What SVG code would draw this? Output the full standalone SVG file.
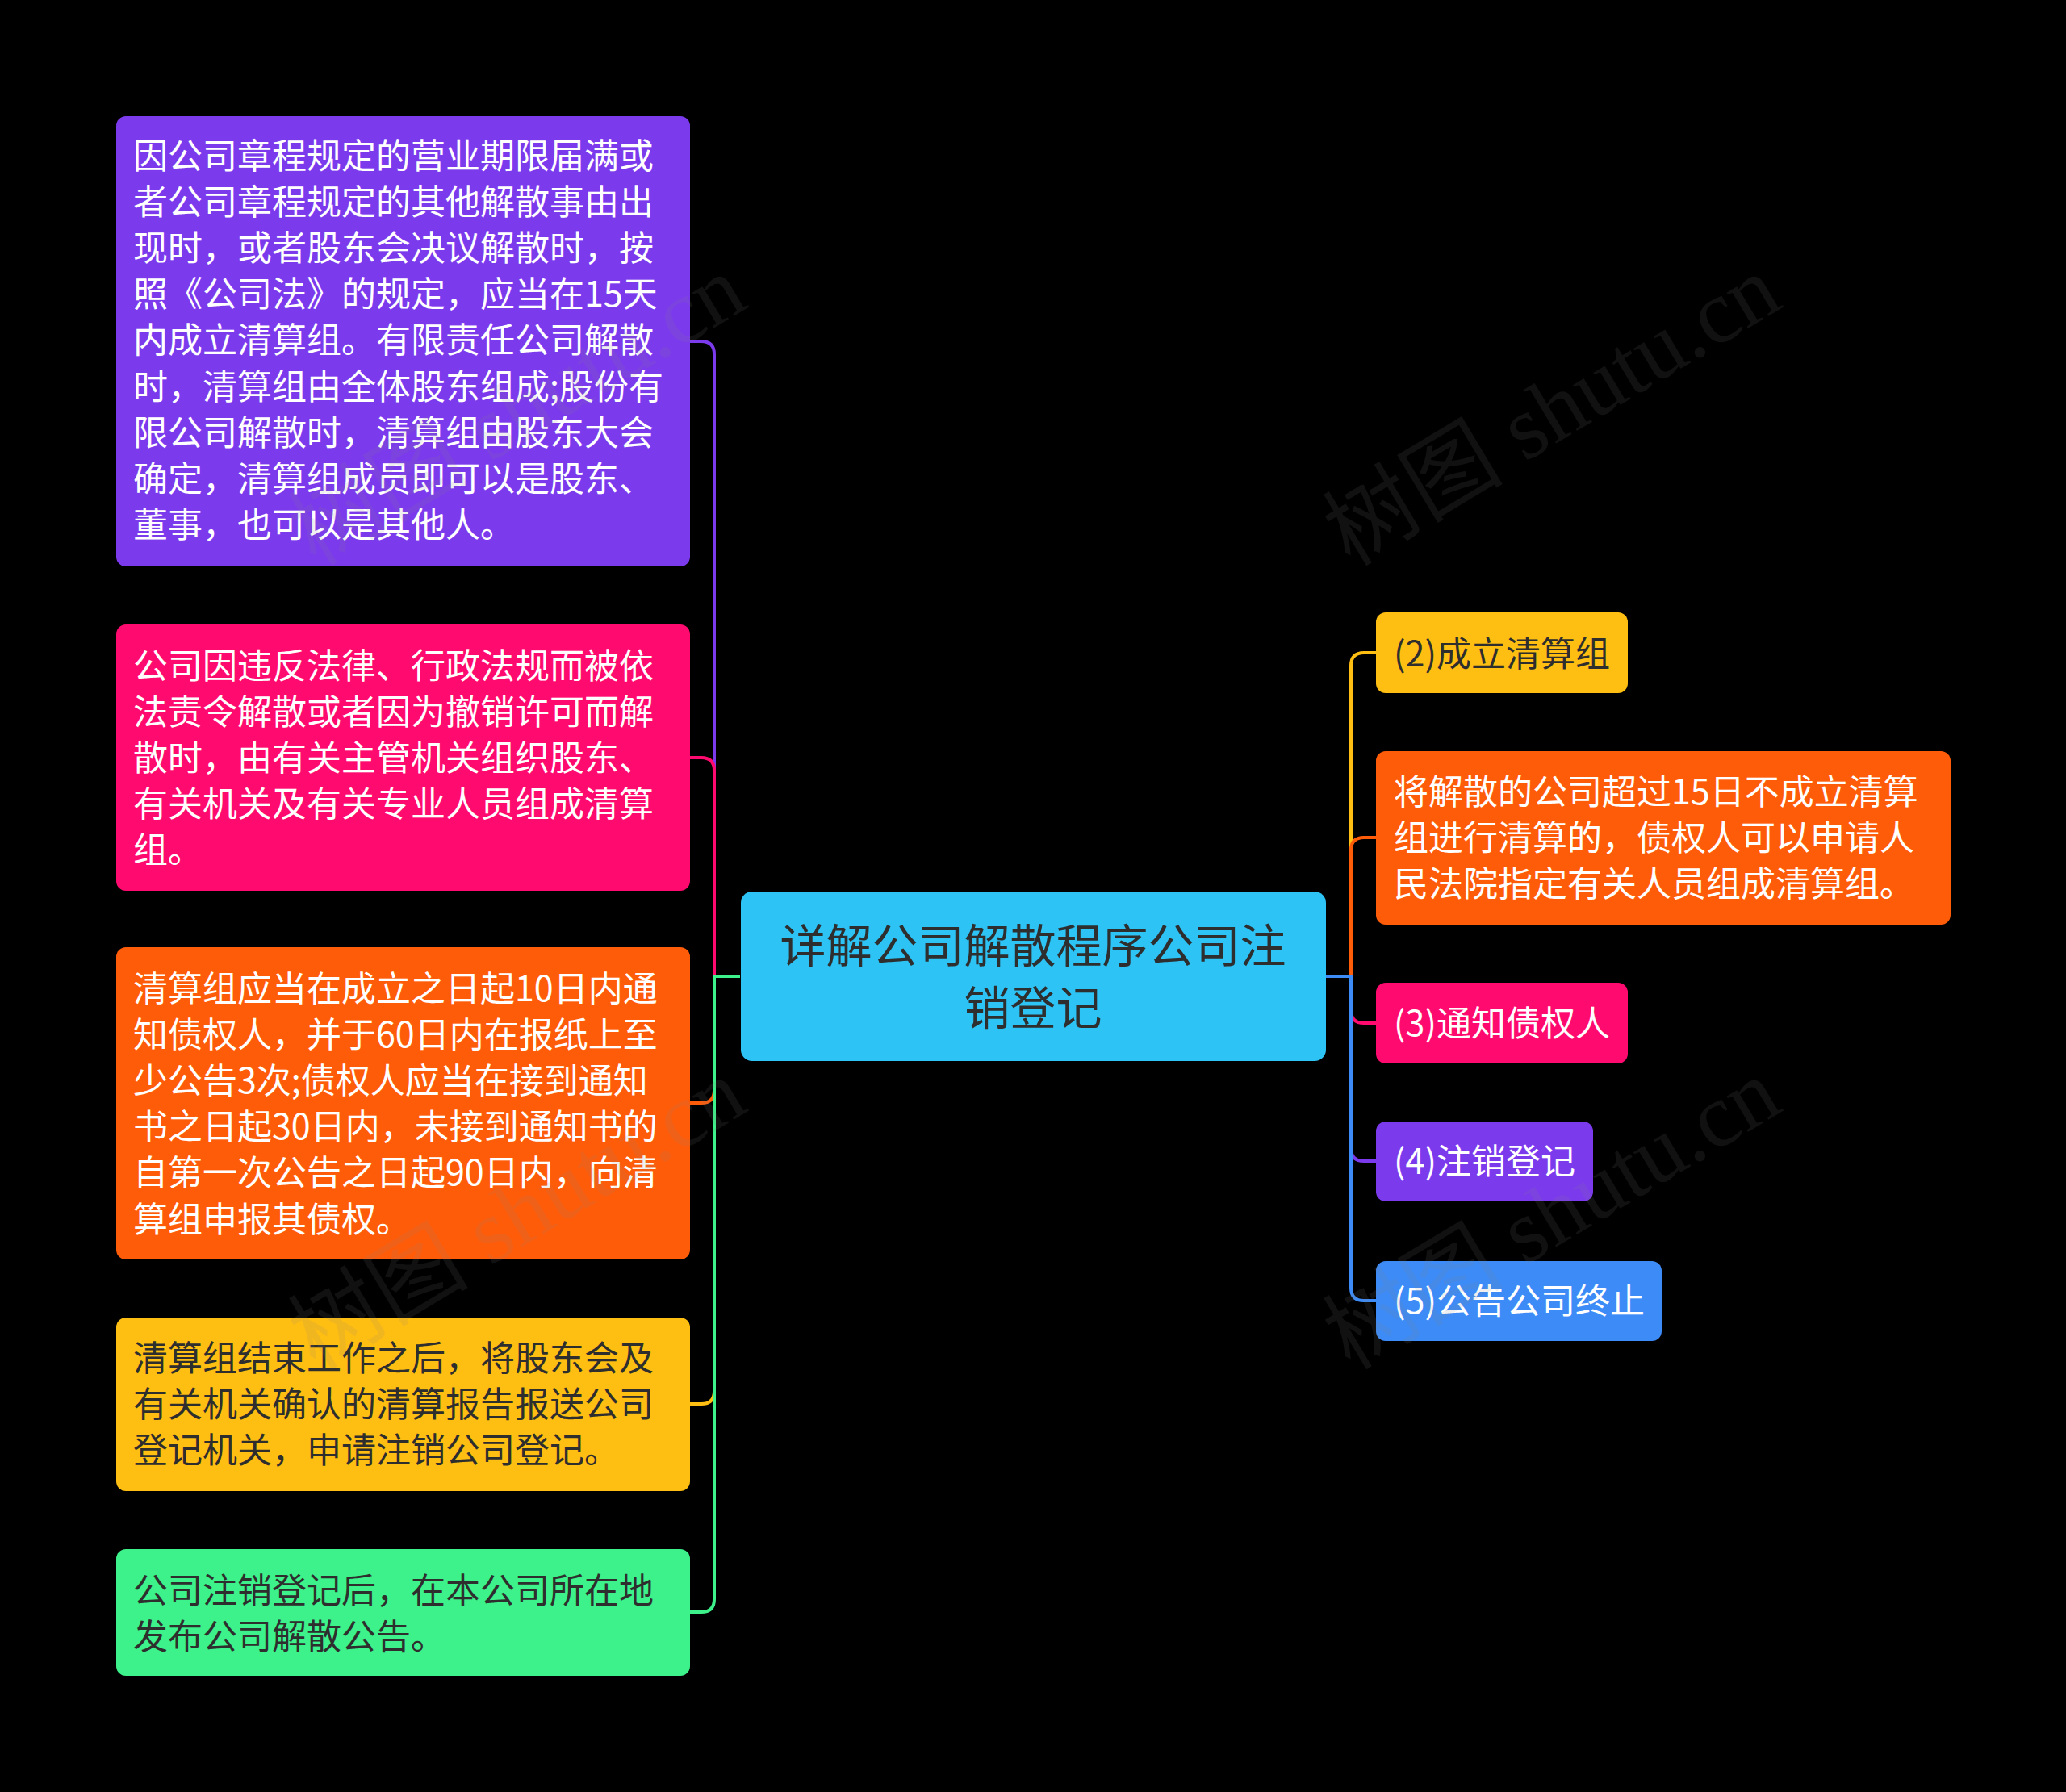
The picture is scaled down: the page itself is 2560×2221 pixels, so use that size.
<svg xmlns="http://www.w3.org/2000/svg" width="2560" height="2221" viewBox="0 0 2560 2221">
<style>
.t{font-family:"Noto Sans CJK SC","Liberation Sans",sans-serif;font-size:43px}
.w{fill:#ffffff}
.d{fill:#2e2e2e}
.c{font-size:57px;text-anchor:middle}
.ln{fill:none;stroke-width:4;stroke-linejoin:round}
.wm{font-family:"Liberation Serif","Noto Sans CJK SC",serif;font-size:112px;fill:#808080;fill-opacity:0.13}
</style>
<rect x="0" y="0" width="2560" height="2221" fill="#000000"/>
<g id="connectors">
<path class="ln" stroke="#7C3AED" d="M917,1210 H885 V439 Q885,423 869,423 H854"/>
<path class="ln" stroke="#FF0A6E" d="M917,1210 H885 V955 Q885,939 869,939 H854"/>
<path class="ln" stroke="#FF5C0A" d="M917,1210 H885 V1351 Q885,1367 869,1367 H854"/>
<path class="ln" stroke="#FFBE12" d="M917,1210 H885 V1724 Q885,1740 869,1740 H854"/>
<path class="ln" stroke="#3DF28A" d="M917,1210 H885 V1982 Q885,1998 869,1998 H854"/>
<path class="ln" stroke="#FFBE12" d="M1643,1210 H1674 V825 Q1674,809 1690,809 H1705"/>
<path class="ln" stroke="#FF5C0A" d="M1643,1210 H1674 V1054 Q1674,1038 1690,1038 H1705"/>
<path class="ln" stroke="#FF0A6E" d="M1643,1210 H1674 V1252 Q1674,1268 1690,1268 H1705"/>
<path class="ln" stroke="#7C3AED" d="M1643,1210 H1674 V1423 Q1674,1439 1690,1439 H1705"/>
<path class="ln" stroke="#3D8BF7" d="M1643,1210 H1674 V1596 Q1674,1612 1690,1612 H1705"/>
</g>
<g id="center">
<rect x="918" y="1105" width="725" height="210" rx="14" fill="#2DC3F5"/>
<text class="t d c" x="1280" y="1193">详解公司解散程序公司注</text>
<text class="t d c" x="1280" y="1270">销登记</text>
</g>
<g id="n1">
<rect x="144" y="144" width="711" height="558" rx="12" fill="#7C3AED"/>
<text class="t w" x="165" y="209"><tspan x="165">因公司章程规定的营业期限届满或</tspan><tspan x="165" dy="57.1">者公司章程规定的其他解散事由出</tspan><tspan x="165" dy="57.1">现时，或者股东会决议解散时，按</tspan><tspan x="165" dy="57.1">照《公司法》的规定，应当在15天</tspan><tspan x="165" dy="57.1">内成立清算组。有限责任公司解散</tspan><tspan x="165" dy="57.1">时，清算组由全体股东组成;股份有</tspan><tspan x="165" dy="57.1">限公司解散时，清算组由股东大会</tspan><tspan x="165" dy="57.1">确定，清算组成员即可以是股东、</tspan><tspan x="165" dy="57.1">董事，也可以是其他人。</tspan></text>
</g>
<g id="n2">
<rect x="144" y="774" width="711" height="330" rx="12" fill="#FF0A6E"/>
<text class="t w" x="165" y="841"><tspan x="165">公司因违反法律、行政法规而被依</tspan><tspan x="165" dy="57.1">法责令解散或者因为撤销许可而解</tspan><tspan x="165" dy="57.1">散时，由有关主管机关组织股东、</tspan><tspan x="165" dy="57.1">有关机关及有关专业人员组成清算</tspan><tspan x="165" dy="57.1">组。</tspan></text>
</g>
<g id="n3">
<rect x="144" y="1174" width="711" height="387" rx="12" fill="#FF5C0A"/>
<text class="t w" x="165" y="1241"><tspan x="165">清算组应当在成立之日起10日内通</tspan><tspan x="165" dy="57.1">知债权人，并于60日内在报纸上至</tspan><tspan x="165" dy="57.1">少公告3次;债权人应当在接到通知</tspan><tspan x="165" dy="57.1">书之日起30日内，未接到通知书的</tspan><tspan x="165" dy="57.1">自第一次公告之日起90日内，向清</tspan><tspan x="165" dy="57.1">算组申报其债权。</tspan></text>
</g>
<g id="n4">
<rect x="144" y="1633" width="711" height="215" rx="12" fill="#FFBE12"/>
<text class="t d" x="165" y="1699"><tspan x="165">清算组结束工作之后，将股东会及</tspan><tspan x="165" dy="57.1">有关机关确认的清算报告报送公司</tspan><tspan x="165" dy="57.1">登记机关，申请注销公司登记。</tspan></text>
</g>
<g id="n5">
<rect x="144" y="1920" width="711" height="157" rx="12" fill="#3DF28A"/>
<text class="t d" x="165" y="1987"><tspan x="165">公司注销登记后，在本公司所在地</tspan><tspan x="165" dy="57.1">发布公司解散公告。</tspan></text>
</g>
<g id="r1">
<rect x="1705" y="759" width="312" height="100" rx="12" fill="#FFBE12"/>
<text class="t d" x="1727" y="826">(2)成立清算组</text>
</g>
<g id="r2">
<rect x="1705" y="931" width="712" height="215" rx="12" fill="#FF5C0A"/>
<text class="t w" x="1727" y="997"><tspan x="1727">将解散的公司超过15日不成立清算</tspan><tspan x="1727" dy="57.1">组进行清算的，债权人可以申请人</tspan><tspan x="1727" dy="57.1">民法院指定有关人员组成清算组。</tspan></text>
</g>
<g id="r3">
<rect x="1705" y="1218" width="312" height="100" rx="12" fill="#FF0A6E"/>
<text class="t w" x="1727" y="1284">(3)通知债权人</text>
</g>
<g id="r4">
<rect x="1705" y="1390" width="269" height="99" rx="12" fill="#7C3AED"/>
<text class="t w" x="1727" y="1455">(4)注销登记</text>
</g>
<g id="r5">
<rect x="1705" y="1563" width="354" height="99" rx="12" fill="#3D8BF7"/>
<text class="t w" x="1727" y="1628">(5)公告公司终止</text>
</g>
<g id="watermarks">
<text class="wm" transform="translate(391,703) rotate(-31)">树图 shutu.cn</text>
<text class="wm" transform="translate(1673,703) rotate(-31)">树图 shutu.cn</text>
<text class="wm" transform="translate(391,1699) rotate(-31)">树图 shutu.cn</text>
<text class="wm" transform="translate(1673,1699) rotate(-31)">树图 shutu.cn</text>
</g>
</svg>
